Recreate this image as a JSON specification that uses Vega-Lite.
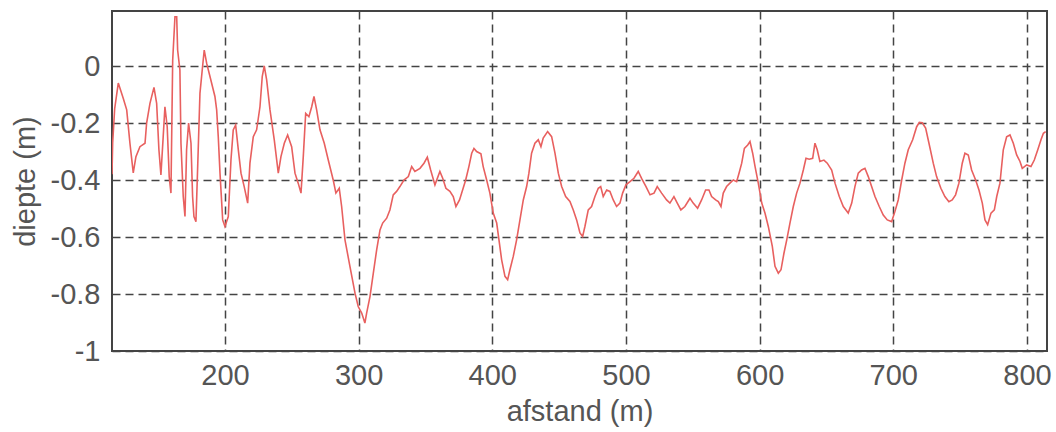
{
  "$schema": "https://vega.github.io/schema/vega-lite/v6.json",
  "width": 935,
  "height": 340,
  "autosize": {"type": "none"},
  "padding": {"left": 112, "top": 11, "right": 9, "bottom": 81},
  "background": "white",
  "config": {
    "view": {"stroke": "#444", "strokeWidth": 2},
    "font": "Liberation Sans",
    "axis": {
      "domain": false,
      "ticks": false,
      "grid": true,
      "gridColor": "#444",
      "gridDash": [8, 5],
      "gridWidth": 1.5,
      "gridOpacity": 1,
      "labelFont": "Liberation Sans",
      "titleFont": "Liberation Sans",
      "labelFontSize": 29,
      "titleFontSize": 29,
      "labelColor": "#555",
      "titleColor": "#555",
      "titleFontWeight": "normal"
    }
  },
  "data": {
    "values": [
      {"afstand": 115.5, "diepte": -0.38},
      {"afstand": 116, "diepte": -0.27},
      {"afstand": 117.5, "diepte": -0.15},
      {"afstand": 120.2, "diepte": -0.06},
      {"afstand": 123.9, "diepte": -0.113},
      {"afstand": 126.5, "diepte": -0.154},
      {"afstand": 128.9, "diepte": -0.27},
      {"afstand": 131.4, "diepte": -0.375},
      {"afstand": 133.4, "diepte": -0.318},
      {"afstand": 136.4, "diepte": -0.283},
      {"afstand": 140.2, "diepte": -0.271},
      {"afstand": 141.4, "diepte": -0.2},
      {"afstand": 143.9, "diepte": -0.131},
      {"afstand": 146.9, "diepte": -0.075},
      {"afstand": 148.9, "diepte": -0.131},
      {"afstand": 150.6, "diepte": -0.294},
      {"afstand": 152.1, "diepte": -0.382},
      {"afstand": 153.8, "diepte": -0.248},
      {"afstand": 155.1, "diepte": -0.143},
      {"afstand": 156.8, "diepte": -0.213},
      {"afstand": 158.3, "diepte": -0.388},
      {"afstand": 159.6, "diepte": -0.446},
      {"afstand": 160.9, "diepte": 0.02},
      {"afstand": 162.6, "diepte": 0.173},
      {"afstand": 163.9, "diepte": 0.173},
      {"afstand": 164.6, "diepte": 0.056},
      {"afstand": 166.3, "diepte": -0.014},
      {"afstand": 167.1, "diepte": -0.271},
      {"afstand": 168.8, "diepte": -0.458},
      {"afstand": 170.1, "diepte": -0.528},
      {"afstand": 171.3, "diepte": -0.294},
      {"afstand": 172.8, "diepte": -0.2},
      {"afstand": 174.6, "diepte": -0.271},
      {"afstand": 175.8, "diepte": -0.458},
      {"afstand": 176.8, "diepte": -0.528},
      {"afstand": 178.3, "diepte": -0.546},
      {"afstand": 180.0, "diepte": -0.294},
      {"afstand": 181.3, "diepte": -0.096},
      {"afstand": 183.3, "diepte": 0.0},
      {"afstand": 184.5, "diepte": 0.056},
      {"afstand": 186.3, "diepte": 0.01},
      {"afstand": 188.8, "diepte": -0.037},
      {"afstand": 192.5, "diepte": -0.107},
      {"afstand": 193.8, "diepte": -0.154},
      {"afstand": 195.0, "diepte": -0.248},
      {"afstand": 196.3, "diepte": -0.376},
      {"afstand": 198.3, "diepte": -0.54},
      {"afstand": 200, "diepte": -0.563},
      {"afstand": 202.5, "diepte": -0.528},
      {"afstand": 204.5, "diepte": -0.33},
      {"afstand": 206.2, "diepte": -0.224},
      {"afstand": 208.0, "diepte": -0.207},
      {"afstand": 210.0, "diepte": -0.294},
      {"afstand": 212.0, "diepte": -0.376},
      {"afstand": 214.4, "diepte": -0.423},
      {"afstand": 217.0, "diepte": -0.481},
      {"afstand": 218.7, "diepte": -0.341},
      {"afstand": 221.2, "diepte": -0.248},
      {"afstand": 223.7, "diepte": -0.224},
      {"afstand": 226.2, "diepte": -0.143},
      {"afstand": 227.9, "diepte": -0.037},
      {"afstand": 229.4, "diepte": 0.0},
      {"afstand": 231.2, "diepte": -0.049},
      {"afstand": 233.7, "diepte": -0.154},
      {"afstand": 236.9, "diepte": -0.259},
      {"afstand": 239.9, "diepte": -0.376},
      {"afstand": 241.9, "diepte": -0.318},
      {"afstand": 244.4, "diepte": -0.271},
      {"afstand": 246.9, "diepte": -0.242},
      {"afstand": 249.9, "diepte": -0.283},
      {"afstand": 252.4, "diepte": -0.376},
      {"afstand": 254.8, "diepte": -0.411},
      {"afstand": 256.9, "diepte": -0.446},
      {"afstand": 258.6, "diepte": -0.318},
      {"afstand": 260.4, "diepte": -0.166},
      {"afstand": 262.8, "diepte": -0.178},
      {"afstand": 264.9, "diepte": -0.143},
      {"afstand": 266.6, "diepte": -0.107},
      {"afstand": 268.6, "diepte": -0.154},
      {"afstand": 271.1, "diepte": -0.224},
      {"afstand": 274.3, "diepte": -0.271},
      {"afstand": 277.3, "diepte": -0.33},
      {"afstand": 281.0, "diepte": -0.4},
      {"afstand": 283.0, "diepte": -0.446},
      {"afstand": 285.5, "diepte": -0.429},
      {"afstand": 287.3, "diepte": -0.493},
      {"afstand": 289.8, "diepte": -0.61},
      {"afstand": 293.5, "diepte": -0.703},
      {"afstand": 297.3, "diepte": -0.797},
      {"afstand": 299.7, "diepte": -0.844},
      {"afstand": 302.3, "diepte": -0.867},
      {"afstand": 304.7, "diepte": -0.902},
      {"afstand": 306.0, "diepte": -0.867},
      {"afstand": 308.5, "diepte": -0.809},
      {"afstand": 311.0, "diepte": -0.727},
      {"afstand": 313.5, "diepte": -0.645},
      {"afstand": 316.0, "diepte": -0.575},
      {"afstand": 318.0, "diepte": -0.551},
      {"afstand": 321.0, "diepte": -0.534},
      {"afstand": 323.4, "diepte": -0.505},
      {"afstand": 325.9, "diepte": -0.452},
      {"afstand": 328.4, "diepte": -0.44},
      {"afstand": 330.9, "diepte": -0.423},
      {"afstand": 333.9, "diepte": -0.4},
      {"afstand": 337.2, "diepte": -0.388},
      {"afstand": 339.7, "diepte": -0.353},
      {"afstand": 342.1, "diepte": -0.37},
      {"afstand": 345.9, "diepte": -0.359},
      {"afstand": 348.9, "diepte": -0.341},
      {"afstand": 351.4, "diepte": -0.32},
      {"afstand": 353.9, "diepte": -0.365},
      {"afstand": 357.1, "diepte": -0.417},
      {"afstand": 360.8, "diepte": -0.37},
      {"afstand": 362.9, "diepte": -0.394},
      {"afstand": 365.3, "diepte": -0.429},
      {"afstand": 368.3, "diepte": -0.44},
      {"afstand": 370.8, "diepte": -0.458},
      {"afstand": 372.8, "diepte": -0.493},
      {"afstand": 375.5, "diepte": -0.47},
      {"afstand": 377.1, "diepte": -0.446},
      {"afstand": 380.1, "diepte": -0.4},
      {"afstand": 382.5, "diepte": -0.353},
      {"afstand": 384.6, "diepte": -0.306},
      {"afstand": 386.3, "diepte": -0.289},
      {"afstand": 388.3, "diepte": -0.3},
      {"afstand": 391.5, "diepte": -0.308},
      {"afstand": 393.2, "diepte": -0.353},
      {"afstand": 395.8, "diepte": -0.4},
      {"afstand": 398.2, "diepte": -0.446},
      {"afstand": 400.7, "diepte": -0.516},
      {"afstand": 403.3, "diepte": -0.551},
      {"afstand": 405.0, "diepte": -0.61},
      {"afstand": 407.0, "diepte": -0.68},
      {"afstand": 409.5, "diepte": -0.738},
      {"afstand": 411.5, "diepte": -0.75},
      {"afstand": 413.2, "diepte": -0.715},
      {"afstand": 415.7, "diepte": -0.668},
      {"afstand": 418.2, "diepte": -0.61},
      {"afstand": 420.7, "diepte": -0.54},
      {"afstand": 423.2, "diepte": -0.47},
      {"afstand": 425.7, "diepte": -0.423},
      {"afstand": 427.4, "diepte": -0.376},
      {"afstand": 429.4, "diepte": -0.306},
      {"afstand": 431.9, "diepte": -0.271},
      {"afstand": 434.4, "diepte": -0.259},
      {"afstand": 436.4, "diepte": -0.283},
      {"afstand": 438.1, "diepte": -0.253},
      {"afstand": 441.4, "diepte": -0.23},
      {"afstand": 444.4, "diepte": -0.248},
      {"afstand": 446.9, "diepte": -0.306},
      {"afstand": 449.4, "diepte": -0.376},
      {"afstand": 451.9, "diepte": -0.423},
      {"afstand": 454.9, "diepte": -0.458},
      {"afstand": 458.1, "diepte": -0.475},
      {"afstand": 460.6, "diepte": -0.505},
      {"afstand": 463.1, "diepte": -0.54},
      {"afstand": 465.6, "diepte": -0.586},
      {"afstand": 467.6, "diepte": -0.598},
      {"afstand": 469.3, "diepte": -0.563},
      {"afstand": 471.8, "diepte": -0.505},
      {"afstand": 474.3, "diepte": -0.493},
      {"afstand": 476.8, "diepte": -0.458},
      {"afstand": 479.3, "diepte": -0.429},
      {"afstand": 481.1, "diepte": -0.423},
      {"afstand": 483.0, "diepte": -0.458},
      {"afstand": 485.6, "diepte": -0.435},
      {"afstand": 488.0, "diepte": -0.44},
      {"afstand": 490.5, "diepte": -0.47},
      {"afstand": 493.0, "diepte": -0.493},
      {"afstand": 495.5, "diepte": -0.481},
      {"afstand": 497.5, "diepte": -0.446},
      {"afstand": 500, "diepte": -0.417},
      {"afstand": 503.0, "diepte": -0.406},
      {"afstand": 506.0, "diepte": -0.394},
      {"afstand": 509.2, "diepte": -0.37},
      {"afstand": 511.7, "diepte": -0.394},
      {"afstand": 515.0, "diepte": -0.423},
      {"afstand": 518.0, "diepte": -0.452},
      {"afstand": 521.0, "diepte": -0.446},
      {"afstand": 523.4, "diepte": -0.423},
      {"afstand": 526.7, "diepte": -0.446},
      {"afstand": 530.4, "diepte": -0.47},
      {"afstand": 532.9, "diepte": -0.481},
      {"afstand": 535.9, "diepte": -0.458},
      {"afstand": 538.4, "diepte": -0.481},
      {"afstand": 541.1, "diepte": -0.505},
      {"afstand": 544.1, "diepte": -0.493},
      {"afstand": 547.9, "diepte": -0.464},
      {"afstand": 550.3, "diepte": -0.481},
      {"afstand": 553.6, "diepte": -0.499},
      {"afstand": 556.6, "diepte": -0.47},
      {"afstand": 559.6, "diepte": -0.435},
      {"afstand": 562.1, "diepte": -0.435},
      {"afstand": 564.1, "diepte": -0.458},
      {"afstand": 567.1, "diepte": -0.47},
      {"afstand": 569.1, "diepte": -0.476},
      {"afstand": 571.1, "diepte": -0.493},
      {"afstand": 572.8, "diepte": -0.446},
      {"afstand": 575.3, "diepte": -0.423},
      {"afstand": 577.8, "diepte": -0.411},
      {"afstand": 580.3, "diepte": -0.4},
      {"afstand": 582.8, "diepte": -0.406},
      {"afstand": 584.6, "diepte": -0.376},
      {"afstand": 586.6, "diepte": -0.341},
      {"afstand": 588.6, "diepte": -0.289},
      {"afstand": 591.1, "diepte": -0.277},
      {"afstand": 592.8, "diepte": -0.265},
      {"afstand": 594.8, "diepte": -0.306},
      {"afstand": 596.6, "diepte": -0.353},
      {"afstand": 599.0, "diepte": -0.411},
      {"afstand": 601.6, "diepte": -0.481},
      {"afstand": 604.0, "diepte": -0.516},
      {"afstand": 606.5, "diepte": -0.563},
      {"afstand": 609.5, "diepte": -0.633},
      {"afstand": 611.5, "diepte": -0.703},
      {"afstand": 614.0, "diepte": -0.727},
      {"afstand": 616.0, "diepte": -0.715},
      {"afstand": 618.2, "diepte": -0.657},
      {"afstand": 620.3, "diepte": -0.61},
      {"afstand": 622.7, "diepte": -0.551},
      {"afstand": 625.2, "diepte": -0.493},
      {"afstand": 627.7, "diepte": -0.446},
      {"afstand": 630.2, "diepte": -0.411},
      {"afstand": 632.7, "diepte": -0.365},
      {"afstand": 634.7, "diepte": -0.324},
      {"afstand": 637.1, "diepte": -0.327},
      {"afstand": 639.7, "diepte": -0.324},
      {"afstand": 641.4, "diepte": -0.271},
      {"afstand": 643.1, "diepte": -0.294},
      {"afstand": 645.1, "diepte": -0.335},
      {"afstand": 648.1, "diepte": -0.33},
      {"afstand": 650.6, "diepte": -0.341},
      {"afstand": 653.9, "diepte": -0.365},
      {"afstand": 656.4, "diepte": -0.411},
      {"afstand": 659.6, "diepte": -0.458},
      {"afstand": 662.6, "diepte": -0.493},
      {"afstand": 666.3, "diepte": -0.516},
      {"afstand": 668.9, "diepte": -0.481},
      {"afstand": 671.3, "diepte": -0.423},
      {"afstand": 673.8, "diepte": -0.376},
      {"afstand": 676.3, "diepte": -0.365},
      {"afstand": 678.8, "diepte": -0.359},
      {"afstand": 681.3, "diepte": -0.388},
      {"afstand": 683.8, "diepte": -0.423},
      {"afstand": 686.3, "diepte": -0.458},
      {"afstand": 689.5, "diepte": -0.493},
      {"afstand": 692.5, "diepte": -0.523},
      {"afstand": 695.5, "diepte": -0.54},
      {"afstand": 698.8, "diepte": -0.546},
      {"afstand": 701.2, "diepte": -0.511},
      {"afstand": 703.7, "diepte": -0.47},
      {"afstand": 706.3, "diepte": -0.4},
      {"afstand": 708.7, "diepte": -0.341},
      {"afstand": 711.2, "diepte": -0.294},
      {"afstand": 714.5, "diepte": -0.259},
      {"afstand": 717.5, "diepte": -0.213},
      {"afstand": 719.5, "diepte": -0.198},
      {"afstand": 721.7, "diepte": -0.199},
      {"afstand": 724.2, "diepte": -0.218},
      {"afstand": 726.7, "diepte": -0.271},
      {"afstand": 729.9, "diepte": -0.341},
      {"afstand": 732.4, "diepte": -0.388},
      {"afstand": 735.6, "diepte": -0.429},
      {"afstand": 738.6, "diepte": -0.458},
      {"afstand": 741.6, "diepte": -0.476},
      {"afstand": 744.1, "diepte": -0.47},
      {"afstand": 746.6, "diepte": -0.452},
      {"afstand": 749.1, "diepte": -0.411},
      {"afstand": 751.6, "diepte": -0.341},
      {"afstand": 753.6, "diepte": -0.306},
      {"afstand": 756.1, "diepte": -0.312},
      {"afstand": 758.6, "diepte": -0.365},
      {"afstand": 761.6, "diepte": -0.4},
      {"afstand": 764.1, "diepte": -0.435},
      {"afstand": 766.6, "diepte": -0.481},
      {"afstand": 768.6, "diepte": -0.54},
      {"afstand": 770.6, "diepte": -0.557},
      {"afstand": 773.1, "diepte": -0.516},
      {"afstand": 775.6, "diepte": -0.505},
      {"afstand": 777.4, "diepte": -0.458},
      {"afstand": 779.8, "diepte": -0.411},
      {"afstand": 782.3, "diepte": -0.294},
      {"afstand": 784.8, "diepte": -0.248},
      {"afstand": 787.3, "diepte": -0.242},
      {"afstand": 789.8, "diepte": -0.271},
      {"afstand": 792.3, "diepte": -0.312},
      {"afstand": 794.8, "diepte": -0.335},
      {"afstand": 796.5, "diepte": -0.359},
      {"afstand": 799.8, "diepte": -0.347},
      {"afstand": 803.0, "diepte": -0.353},
      {"afstand": 805.5, "diepte": -0.33},
      {"afstand": 808.1, "diepte": -0.294},
      {"afstand": 810.5, "diepte": -0.259},
      {"afstand": 812.3, "diepte": -0.236},
      {"afstand": 814, "diepte": -0.23}
    ]
  },
  "mark": {"type": "line", "color": "#e8605f", "strokeWidth": 1.6, "clip": true},
  "encoding": {
    "x": {
      "field": "afstand",
      "type": "quantitative",
      "scale": {"domain": [115.5, 815], "nice": false, "zero": false},
      "axis": {
        "values": [200, 300, 400, 500, 600, 700, 800],
        "title": "afstand (m)",
        "labelPadding": 10,
        "titlePadding": 7
      }
    },
    "y": {
      "field": "diepte",
      "type": "quantitative",
      "scale": {"domain": [-1, 0.193], "nice": false, "zero": false},
      "axis": {
        "values": [-1, -0.8, -0.6, -0.4, -0.2, 0],
        "labelExpr": "toString(datum.value)",
        "title": "diepte (m)",
        "labelPadding": 12,
        "titlePadding": 10
      }
    }
  }
}
